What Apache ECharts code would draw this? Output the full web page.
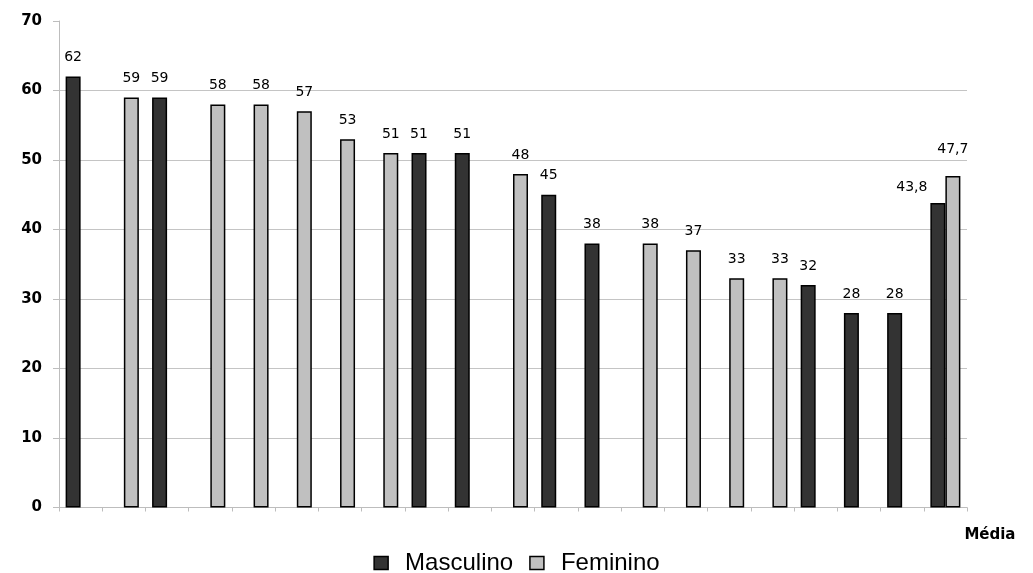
<!DOCTYPE html>
<html>
<head>
<meta charset="utf-8">
<script src="https://cdn.jsdelivr.net/npm/echarts@6/dist/echarts.min.js"></script>
<style>
html,body{margin:0;padding:0;background:#fff;}
#c{width:1033px;height:573px;}
</style>
</head>
<body>
<div id="c"></div>
<script>
const categories = ['', '', '', '', '', '', '', '', '', '', '', '', '', '', '', '', '', '', '', '', 'Média'];
const masculino = [62, null, 59, null, null, null, null, null, 51, 51, null, 45, 38, null, null, null, null, 32, 28, 28, 43.8];
const feminino  = [null, 59, null, 58, 58, 57, 53, 51, null, null, 48, null, null, 38, 37, 33, 33, null, null, null, 47.7];
const yTicks = [0, 10, 20, 30, 40, 50, 60, 70];

const chart = echarts.init(document.getElementById('c'));
const fmt = p => String(p.value).replace('.', ',');
const last = categories.length - 1;

function build(arr, lastOffset) {
  return arr.map((v, i) => {
    if (v === null) return null;
    if (i === last) return { value: v, label: { offset: lastOffset } };
    return v;
  });
}

const labelStyle = {
  show: true, position: 'top', distance: 12, color: '#000',
  fontFamily: 'DejaVu Sans', fontSize: 14, formatter: fmt
};

chart.setOption({
  animation: false,
  backgroundColor: '#fff',
  grid: { left: 59, right: 66, top: 21, bottom: 65.5 },
  legend: {
    left: 'center', top: 546,
    itemWidth: 14, itemHeight: 13, itemGap: 16,
    icon: 'rect',
    itemStyle: { borderColor: '#000', borderWidth: 1.5 },
    textStyle: { fontFamily: 'Liberation Sans', fontSize: 24, lineHeight: 24, color: '#000', padding: [0, 0, 0, 12] },
    data: ['Masculino', 'Feminino']
  },
  xAxis: {
    type: 'category',
    data: categories,
    axisLine: { lineStyle: { color: '#bdbdbd', width: 1 } },
    axisTick: { show: true, length: 4, lineStyle: { color: '#bdbdbd' } },
    axisLabel: {
      interval: 0, align: 'left', margin: 20, padding: [0, 0, 0, 19],
      fontFamily: 'DejaVu Sans', fontWeight: 'bold', fontSize: 15, color: '#000'
    },
    splitLine: { show: false }
  },
  yAxis: {
    type: 'value', min: yTicks[0], max: yTicks[yTicks.length - 1], interval: 10,
    axisLine: { show: true, lineStyle: { color: '#bdbdbd', width: 1 } },
    axisTick: { show: true, length: 6, lineStyle: { color: '#bdbdbd' } },
    axisLabel: {
      margin: 17, fontFamily: 'DejaVu Sans', fontWeight: 'bold', fontSize: 15, color: '#000'
    },
    splitLine: {
      show: true,
      lineStyle: { color: ['#c4c4c4', '#c4c4c4', '#c4c4c4', '#c4c4c4', '#c4c4c4', '#c4c4c4', '#c4c4c4', 'rgba(0,0,0,0)'], width: 1 }
    }
  },
  series: [
    {
      name: 'Masculino', type: 'bar', barWidth: 15, barGap: '0%',
      itemStyle: { color: '#333333', borderColor: '#000', borderWidth: 1.5 },
      label: labelStyle,
      data: build(masculino, [-26, 3])
    },
    {
      name: 'Feminino', type: 'bar', barWidth: 15, barGap: '0%',
      itemStyle: { color: '#c0c0c0', borderColor: '#000', borderWidth: 1.5 },
      label: labelStyle,
      data: build(feminino, [0, -8])
    }
  ]
});
</script>
</body>
</html>
